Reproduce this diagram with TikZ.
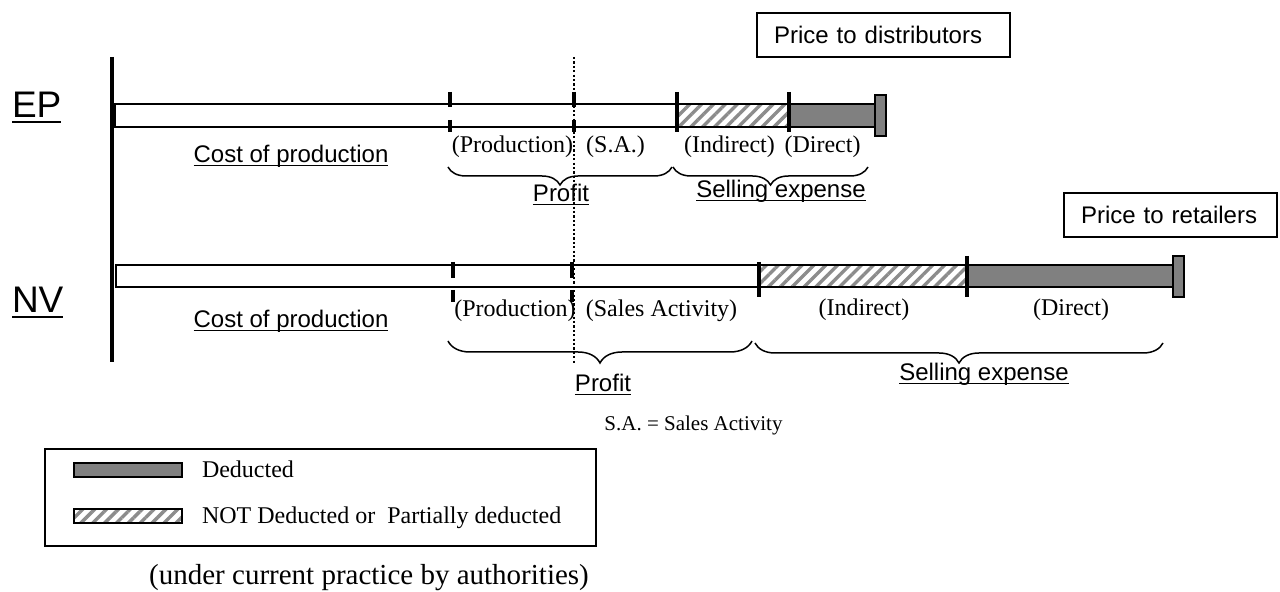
\documentclass[tikz,border=0pt]{standalone}
\usepackage{fontspec}
\setmainfont{Liberation Serif}
\setsansfont{Liberation Sans}
\usetikzlibrary{patterns.meta}
\usetikzlibrary{decorations.pathreplacing}

% underline at a fixed depth below the baseline
\newcommand{\ulabel}[1]{\leavevmode\setbox0=\hbox{#1}\rlap{\rule[-0.14em]{\wd0}{0.065em}}\box0}

\begin{document}
\begin{tikzpicture}[
    x=0.5pt, y=-0.5pt,
    every node/.style={inner sep=0pt, outer sep=0pt},
    sanslabel/.style={font=\sffamily\fontsize{12}{14}\selectfont, anchor=base},
    seriflabel/.style={font=\fontsize{12}{14}\selectfont, anchor=base},
    country/.style={font=\sffamily\fontsize{18.5}{20}\selectfont, anchor=base west},
    pricebox/.style={draw, line width=0.8pt, anchor=north west, align=left,
        inner xsep=8.5pt, minimum height=22pt, font=\sffamily\fontsize{12}{14}\selectfont},
    barline/.style={line width=1pt},
    tickmark/.style={line width=1.6pt},
    hatched/.style={pattern={Lines[angle=45, distance=4.2pt, line width=1.7pt]}, pattern color=gray!90},
    deducted/.style={fill=gray},
    bracedown/.style={decorate, decoration={brace, mirror, amplitude=#1}, line width=0.75pt}
]
    \useasboundingbox (0,0) rectangle (1280,592);

    % Axis and dotted line
    \draw[line width=1.6pt] (112,57) -- (112,362);
    \draw[line width=1.2pt, dash pattern=on 1.1pt off 1.1pt] (574,57) -- (574,363);

    % EP bar
    \node[country] (ep) at (12,118) {\ulabel{EP}};
    \draw[barline] (115,104) rectangle (677,127);
    \draw[barline, hatched] (677,104) rectangle (789,127);
    \draw[barline, deducted] (789,104) rectangle (875,127);
    \draw[line width=0.8pt, deducted] (875,95) rectangle (886,136);
    \draw[tickmark] (450,92) -- (450,107) (450,120) -- (450,132);
    \draw[tickmark] (574,92) -- (574,107) (574,120) -- (574,132);
    \draw[tickmark] (677,92) -- (677,132);
    \draw[tickmark] (789,92) -- (789,132);
    \node[pricebox, text width=109.5pt, minimum width=126.5pt] (pdist) at (757,13) {Price to distributors};

    % EP labels
    \node[sanslabel] (epcost) at (291,163) {\ulabel{Cost of production}};
    \node[seriflabel] (epprod) at (512.5,153) {(Production)};
    \node[seriflabel] (epsa) at (615.5,153) {(S.A.)};
    \node[seriflabel] (epind) at (729.5,153) {(Indirect)};
    \node[seriflabel] (epdir) at (822.5,153) {(Direct)};
    \draw[bracedown=9pt] (448,167) -- (672,167);
    \draw[bracedown=9pt] (673,167) -- (868,167);
    \node[sanslabel] (epprofit) at (561,202) {\ulabel{Profit}};
    \node[sanslabel] (epsell) at (781,198) {\ulabel{Selling expense}};

    % NV bar
    \node[country] (nv) at (12,313) {\ulabel{NV}};
    \draw[barline] (116,265) rectangle (759,287);
    \draw[barline, hatched] (759,265) rectangle (967,287);
    \draw[barline, deducted] (967,265) rectangle (1173,287);
    \draw[line width=0.8pt, deducted] (1173,256) rectangle (1184,297);
    \draw[tickmark] (453,262) -- (453,278) (453,290) -- (453,302);
    \draw[tickmark] (572,262) -- (572,278) (572,290) -- (572,302);
    \draw[tickmark] (759,262) -- (759,297);
    \draw[tickmark] (967,256) -- (967,297);
    \node[pricebox, text width=89.5pt, minimum width=106.5pt] (pret) at (1064,193) {Price to retailers};

    % NV labels
    \node[sanslabel] (nvcost) at (291,328) {\ulabel{Cost of production}};
    \node[seriflabel] (nvprod) at (515,317) {(Production)};
    \node[seriflabel] (nvsa) at (661.5,317) {(Sales Activity)};
    \node[seriflabel] (nvind) at (864,316) {(Indirect)};
    \node[seriflabel] (nvdir) at (1071,316) {(Direct)};
    \draw[bracedown=11pt] (448,341) -- (752,341);
    \draw[bracedown=10pt] (755,343) -- (1163,343);
    \node[sanslabel] (nvprofit) at (603,392) {\ulabel{Profit}};
    \node[sanslabel] (nvsell) at (984,381) {\ulabel{Selling expense}};

    \node[seriflabel, font=\fontsize{10.5}{12}\selectfont] (note) at (693.5,431) {S.A. = Sales Activity};

    % Legend
    \draw[line width=0.8pt] (45,449) rectangle (596,546);
    \draw[line width=0.8pt, deducted] (74,463) rectangle (182,477);
    \draw[line width=0.8pt, hatched] (74,509) rectangle (182,523);
    \node[seriflabel, anchor=base west] (legded) at (202,478) {Deducted};
    \node[seriflabel, anchor=base west] (legnot) at (202,524) {NOT Deducted or\ \ Partially deducted};

    \node[seriflabel, font=\fontsize{14.5}{17}\selectfont] (practice) at (369,585) {(under current practice by authorities)};
\end{tikzpicture}
\end{document}
